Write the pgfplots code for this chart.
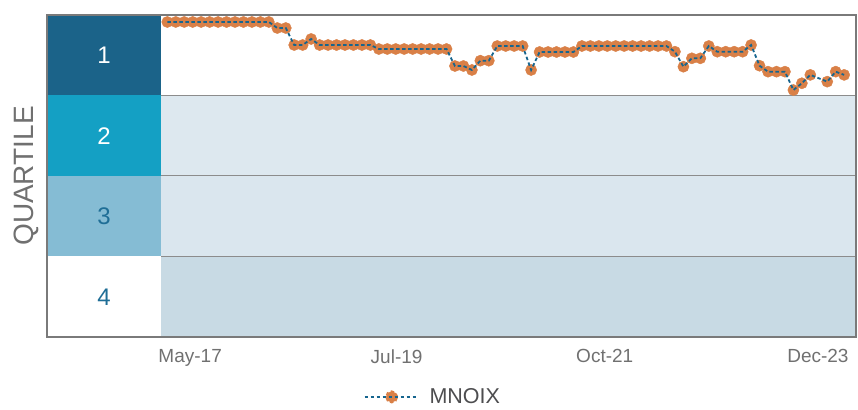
\documentclass[border=0pt]{standalone}
\usepackage{pgfplots}
\pgfplotsset{compat=1.18}
\usepackage{fontspec}
\setmainfont{Liberation Sans}
\definecolor{q1}{HTML}{1B6389}
\definecolor{q2}{HTML}{14A0C4}
\definecolor{q3}{HTML}{85BCD4}
\definecolor{band2}{HTML}{DDE8EF}
\definecolor{band3}{HTML}{DAE6EE}
\definecolor{band4}{HTML}{C8DAE4}
\definecolor{framec}{HTML}{7A7A7A}
\definecolor{gridc}{HTML}{8C8C8C}
\definecolor{mk}{HTML}{D98047}
\definecolor{ln}{HTML}{16658E}
\definecolor{txt}{HTML}{707070}
\definecolor{legtxt}{HTML}{4D4D4F}
\definecolor{numc}{HTML}{1F6E96}

\pgfplotstableread{
i y
0 2.17
1 2.17
2 2.17
3 2.17
4 2.17
5 2.17
6 2.17
7 2.17
8 2.17
9 2.17
10 2.17
11 2.17
12 2.17
13 4.04
14 4.04
15 9.32
16 9.32
17 7.45
18 9.32
19 9.32
20 9.32
21 9.32
22 9.32
23 9.32
24 9.32
25 10.56
26 10.56
27 10.56
28 10.56
29 10.56
30 10.56
31 10.56
32 10.56
33 10.56
34 15.84
35 15.84
36 17.08
37 14.19
38 14.19
39 9.63
40 9.63
41 9.63
42 9.63
43 17.08
44 11.49
45 11.49
46 11.49
47 11.49
48 11.49
49 9.63
50 9.63
51 9.63
52 9.63
53 9.63
54 9.63
55 9.63
56 9.63
57 9.63
58 9.63
59 9.63
60 11.4
61 16.06
62 13.45
63 13.45
64 9.63
65 11.4
66 11.4
67 11.4
68 11.4
69 9.32
70 15.75
71 17.6
72 17.6
73 17.6
74 23.3
75 21.2
76 18.6
78 20.7
79 17.6
80 18.6
}\mnoix

\begin{document}
\begin{tikzpicture}
\begin{axis}[
  set layers=standard,
  at={(47pt,70pt)}, anchor=south west,
  scale only axis, width=809pt, height=322pt,
  xmin=-14.22, xmax=81.4, ymin=0, ymax=100, y dir=reverse,
  axis line style={draw=framec, line width=2.4pt},
  ytick=\empty,
  xtick={2.7,27.1,51.7,76.9},
  xticklabels={May-17,Jul-19,Oct-21,Dec-23},
  major tick length=0pt,
  xticklabel style={font=\fontsize{19}{22}\selectfont, text=txt, yshift=-9pt},
  ylabel={QUARTILE},
  ylabel style={at={(axis description cs:-0.025,0.5)}, anchor=center, font=\fontsize{28}{32}\selectfont, text=txt},
  axis on top,
  clip=false,
  legend style={at={(axis description cs:0.477,-0.186)}, anchor=center, draw=none, fill=none,
    font=\fontsize{21.5}{24}\selectfont, text=legtxt},
  legend cell align=left,
  legend image code/.code={\fill[mk] (27pt,0pt) circle (5.6pt); \draw[#1] (0pt,0pt) -- (53pt,0pt); \path (62pt,0pt);},
]
% background bands
\fill[band2] (axis cs:-0.745,25) rectangle (axis cs:81.4,50);
\fill[band3] (axis cs:-0.745,50) rectangle (axis cs:81.4,75);
\fill[band4] (axis cs:-0.745,75) rectangle (axis cs:81.4,100);
% quartile column
\fill[q1] (axis cs:-14.22,0) rectangle (axis cs:-0.745,25);
\fill[q2] (axis cs:-14.22,25) rectangle (axis cs:-0.745,50);
\fill[q3] (axis cs:-14.22,50) rectangle (axis cs:-0.745,75);
\draw[gridc, line width=1pt] (axis cs:-0.745,25) -- (axis cs:81.4,25);
\draw[gridc, line width=1pt] (axis cs:-0.745,50) -- (axis cs:81.4,50);
\draw[gridc, line width=1pt] (axis cs:-0.745,75) -- (axis cs:81.4,75);
\node[font=\fontsize{24}{28}\selectfont, text=white] at (axis cs:-7.48,12.5) {1};
\node[font=\fontsize{24}{28}\selectfont, text=white] at (axis cs:-7.48,37.5) {2};
\node[font=\fontsize{24}{28}\selectfont, text=numc] at (axis cs:-7.48,62.5) {3};
\node[font=\fontsize{24}{28}\selectfont, text=numc] at (axis cs:-7.48,87.5) {4};
\addplot[only marks, mark=*, mark size=5.6pt, mark options={fill=mk, draw=mk}, forget plot]
  table[x=i, y=y] {\mnoix};
\addplot[ln, line width=1.8pt, dash pattern=on 3.5pt off 2.5pt, mark=none, on layer=axis foreground]
  table[x=i, y=y] {\mnoix};
\addlegendentry{MNOIX}
\end{axis}
\path (0pt,0pt) rectangle (858pt,407pt);
\end{tikzpicture}
\end{document}
